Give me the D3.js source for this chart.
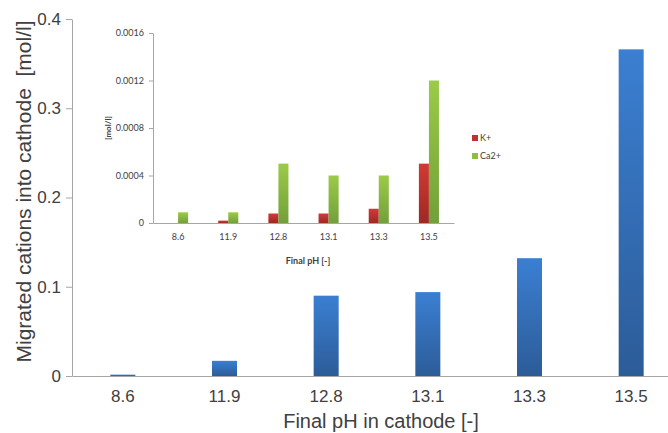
<!DOCTYPE html>
<html>
<head>
<meta charset="utf-8">
<script src="https://cdn.jsdelivr.net/npm/d3@7"></script>
<style>
  html, body { margin: 0; padding: 0; background: #fff; }
  svg { display: block; }
  .main text { font-family: "Liberation Sans", Arial, sans-serif; fill: #404040; }
  .inset text { font-family: Lato, "Open Sans", sans-serif; fill: #404040; }
</style>
</head>
<body>
<svg id="chart" width="668" height="433"></svg>
<script>
// pH categories shared by both panels
const categories = ["8.6", "11.9", "12.8", "13.1", "13.3", "13.5"];

// Total migrated cations into the cathode [mol/l]
const totalCations = [0.0015, 0.017, 0.090, 0.094, 0.132, 0.366];

// Inset: individual cations [mol/l]
const seriesNames = ["K+", "Ca2+"];
const potassium = [0, 0.00002, 0.00008, 0.00008, 0.00012, 0.0005];
const calcium = [0.00009, 0.00009, 0.0005, 0.0004, 0.0004, 0.0012];

// Tick values / labels
const mainTicks = [0, 0.1, 0.2, 0.3, 0.4];
const mainTickLabels = ["0", "0.1", "0.2", "0.3", "0.4"];
const insetTicks = [0, 0.0004, 0.0008, 0.0012, 0.0016];
const insetTickLabels = ["0", "0.0004", "0.0008", "0.0012", "0.0016"];

const svg = d3.select("#chart");
const defs = svg.append("defs");

function gradient(id, top, bottom) {
  const g = defs.append("linearGradient").attr("id", id)
    .attr("x1", 0).attr("y1", 0).attr("x2", 0).attr("y2", 1);
  g.append("stop").attr("offset", "0%").attr("stop-color", top);
  g.append("stop").attr("offset", "100%").attr("stop-color", bottom);
}
gradient("gBlue", "#3b7fd2", "#2c5c98");
gradient("gRed", "#d23a35", "#a02823");
gradient("gGreen", "#9cca48", "#72a03a");

const axisColor = "#a6a6a6";

// ---------- main chart ----------
const main = svg.append("g").attr("class", "main");
const x = d3.scaleBand().domain(categories).range([72, 682])
  .paddingInner(0.754).paddingOuter(0.377);
const y = d3.scaleLinear().domain([0, 0.4]).range([376, 19]);

main.selectAll("rect.bar").data(categories).join("rect")
  .attr("class", "bar")
  .attr("x", d => x(d))
  .attr("width", x.bandwidth())
  .attr("y", (d, i) => y(totalCations[i]))
  .attr("height", (d, i) => y(0) - y(totalCations[i]))
  .attr("fill", "url(#gBlue)");

const yAxis = main.append("g").attr("transform", "translate(72,0)")
  .call(d3.axisLeft(y).tickValues(mainTicks)
    .tickFormat((d, i) => mainTickLabels[i]).tickSize(6).tickSizeOuter(0).tickPadding(5));
yAxis.selectAll("text").style("font-size", "17px");

const xAxis = main.append("g").attr("transform", "translate(0,376)")
  .call(d3.axisBottom(x).tickSize(0).tickPadding(14));
xAxis.selectAll("text").style("font-size", "17px");

[yAxis, xAxis].forEach(a => {
  a.select(".domain").attr("stroke", axisColor);
  a.selectAll(".tick line").attr("stroke", axisColor);
});

main.append("text")
  .attr("transform", "translate(31,191.5) rotate(-90)")
  .attr("text-anchor", "middle")
  .style("font-size", "21px")
  .style("white-space", "pre")
  .text("Migrated cations into cathode  [mol/l]");

main.append("text")
  .attr("x", 381).attr("y", 428)
  .attr("text-anchor", "middle")
  .style("font-size", "20px")
  .text("Final pH in cathode [-]");

// ---------- inset chart ----------
const inset = svg.append("g").attr("class", "inset");
const x0 = d3.scaleBand().domain(categories).range([153, 454])
  .paddingInner(0.6).paddingOuter(0.3);
const x1 = d3.scaleBand().domain(seriesNames).range([0, x0.bandwidth()]);
const yi = d3.scaleLinear().domain([0, 0.0016]).range([223, 33]);

const insetValues = { "K+": potassium, "Ca2+": calcium };
const insetFill = { "K+": "url(#gRed)", "Ca2+": "url(#gGreen)" };
const legendFill = { "K+": "#c0302d", "Ca2+": "#8cbf3f" };

const groups = inset.selectAll("g.grp").data(categories).join("g")
  .attr("class", "grp")
  .attr("transform", d => `translate(${x0(d)},0)`);
groups.selectAll("rect").data((d, i) => seriesNames.map(s => ({ s, v: insetValues[s][i] })))
  .join("rect")
  .attr("x", d => x1(d.s))
  .attr("width", x1.bandwidth())
  .attr("y", d => yi(d.v))
  .attr("height", d => yi(0) - yi(d.v))
  .attr("fill", d => insetFill[d.s]);

const yiAxis = inset.append("g").attr("transform", "translate(153,0)")
  .call(d3.axisLeft(yi).tickValues(insetTicks)
    .tickFormat((d, i) => insetTickLabels[i]).tickSize(4).tickSizeOuter(0).tickPadding(5));
yiAxis.selectAll("text").style("font-size", "9px");

const xiAxis = inset.append("g").attr("transform", "translate(0,223)")
  .call(d3.axisBottom(x0).tickSize(0).tickPadding(11));
xiAxis.selectAll("text").style("font-size", "9px");

[yiAxis, xiAxis].forEach(a => {
  a.select(".domain").attr("stroke", axisColor);
  a.selectAll(".tick line").attr("stroke", axisColor);
});

inset.append("text")
  .attr("transform", "translate(111,128) rotate(-90)")
  .attr("text-anchor", "middle")
  .style("font-size", "8px").style("font-weight", "bold")
  .text("[mol/l]");

inset.append("text")
  .attr("x", 308).attr("y", 264)
  .attr("text-anchor", "middle")
  .style("font-size", "9px").style("font-weight", "bold")
  .text("Final pH [-]");

// legend
const legend = inset.selectAll("g.leg").data(seriesNames).join("g")
  .attr("class", "leg")
  .attr("transform", (d, i) => `translate(472,${135 + i * 18})`);
legend.append("rect").attr("width", 6).attr("height", 6).attr("fill", d => legendFill[d]);
legend.append("text").attr("x", 8).attr("y", 6).style("font-size", "9px").text(d => d);
</script>
</body>
</html>
